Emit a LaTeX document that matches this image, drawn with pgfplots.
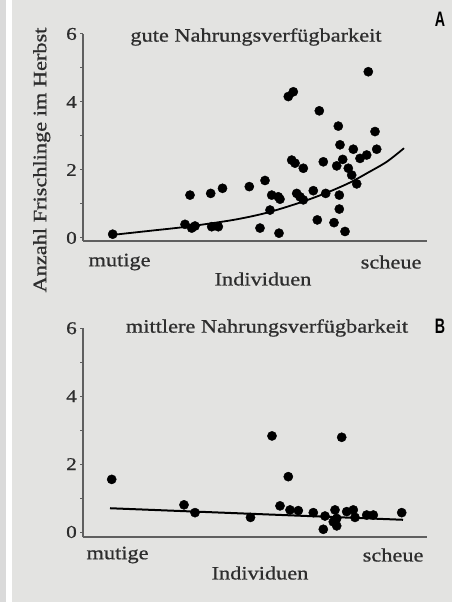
\documentclass[border=0pt]{standalone}
\usepackage{fontspec}
\setmainfont{Liberation Serif}[FakeStretch=1.18, FakeBold=0.8]
\setsansfont{Liberation Sans}
\usepackage{graphicx}
\usepackage{pgfplots}
\usepackage{pgfplotstable}
\pgfplotsset{compat=1.18}

\definecolor{panel}{RGB}{227,227,225}
\definecolor{strip}{RGB}{218,218,218}
\definecolor{axisgray}{RGB}{95,95,95}
\definecolor{ink}{RGB}{45,45,45}

% x = position along the axis (individuals ranked), y = piglets in autumn
\pgfplotstableread{
x y
112.7 0.11
185.0 0.40
191.7 0.29
195.0 0.35
190.0 1.26
210.7 1.31
222.5 1.46
211.7 0.33
218.3 0.33
249.3 1.51
265.0 1.69
260.0 0.29
270.0 0.82
271.7 1.26
278.3 1.21
280.0 1.14
279.0 0.14
288.3 4.16
293.3 4.30
291.7 2.29
295.0 2.20
303.3 2.05
296.7 1.31
300.0 1.21
303.3 1.12
313.3 1.39
317.3 0.53
319.3 3.74
323.3 2.24
325.7 1.31
334.0 0.45
338.3 3.29
340.0 2.74
336.7 2.12
339.3 1.26
339.3 0.85
345.0 0.19
342.7 2.31
348.3 2.05
353.3 2.61
351.7 1.85
356.7 1.59
360.0 2.34
366.7 2.44
368.3 4.89
375.0 3.13
376.7 2.61
}\guteA

\pgfplotstableread{
x y
112.7 0.09
150.0 0.21
186.7 0.33
233.3 0.53
266.7 0.74
300.0 1.04
326.7 1.33
350.0 1.63
366.7 1.90
386.7 2.24
404.0 2.64
}\fitA

\pgfplotstableread{
x y
111.7 1.55
184.0 0.80
195.0 0.57
250.5 0.43
272.0 2.83
288.3 1.63
280.0 0.77
290.0 0.65
298.3 0.63
313.3 0.57
325.0 0.47
323.3 0.08
335.0 0.65
336.7 0.40
336.7 0.18
333.3 0.30
341.7 2.79
346.7 0.60
353.3 0.65
355.0 0.43
366.7 0.50
373.3 0.50
401.7 0.57
}\mittelB

\pgfplotstableread{
x y
110.0 0.70
403.0 0.36
}\fitB

\newcommand{\txt}{\fontsize{19}{22}\selectfont\color{ink}}

\pgfplotsset{
  panel/.style={
    scale only axis, width=343.7bp,
    axis lines=left, axis line style={-, axisgray, line width=2bp},
    xmin=83.3, xmax=427, ymax=6,
    xtick=\empty, ytick={0,...,6}, yticklabels={0,,2,,4,,6},
    tick style={axisgray, line width=1bp}, tick align=outside, major tick length=3bp,
    yticklabel style={font=\fontsize{18}{18}\selectfont, text=ink},
    /pgf/number format/assume math mode=true,
    clip=false,
  },
  dots/.style={only marks, mark=*, mark size=4.6bp, mark options={fill=black, draw=black}},
}

\begin{document}
\begin{tikzpicture}
\fill[strip] (0,0) rectangle (6bp,602bp);
\fill[white] (6bp,0) rectangle (12bp,602bp);
\fill[panel] (12bp,0) rectangle (452bp,602bp);
\fill[white] (452bp,0) rectangle (459bp,602bp);

% A: gute Nahrungsverfuegbarkeit
\begin{axis}[panel, at={(83.3bp,361bp)}, anchor=south west, height=207bp, ymin=-0.09]
  \addplot[black, line width=1.8bp, smooth] table {\fitA};
  \addplot[dots] table {\guteA};
\end{axis}
\node[font=\txt] at (256bp,565bp) {gute Nahrungsverfügbarkeit};
\node[font=\txt, anchor=west] at (85bp,340bp) {mutige};
\node[font=\txt, anchor=east] at (425bp,340bp) {scheue};
\node[font=\txt] at (263bp,323bp) {Individuen};
\node[font=\txt, rotate=90] at (41.7bp,442bp) {Anzahl Frischlinge im Herbst};
\node[font=\fontsize{21}{21}\sffamily\bfseries] at (440bp,583bp) {\scalebox{0.68}[1]{A}};

% B: mittlere Nahrungsverfuegbarkeit
\begin{axis}[panel, at={(83.3bp,64.7bp)}, anchor=south west, height=209bp, ymin=-0.156]
  \addplot[black, line width=2bp] table {\fitB};
  \addplot[dots] table {\mittelB};
\end{axis}
\node[font=\txt] at (267bp,274bp) {mittlere Nahrungsverfügbarkeit};
\node[font=\txt, anchor=west] at (83bp,47bp) {mutige};
\node[font=\txt, anchor=east] at (427bp,47bp) {scheue};
\node[font=\txt] at (260bp,29bp) {Individuen};
\node[font=\fontsize{21}{21}\sffamily\bfseries] at (440bp,276bp) {\scalebox{0.68}[1]{B}};
\end{tikzpicture}
\end{document}
